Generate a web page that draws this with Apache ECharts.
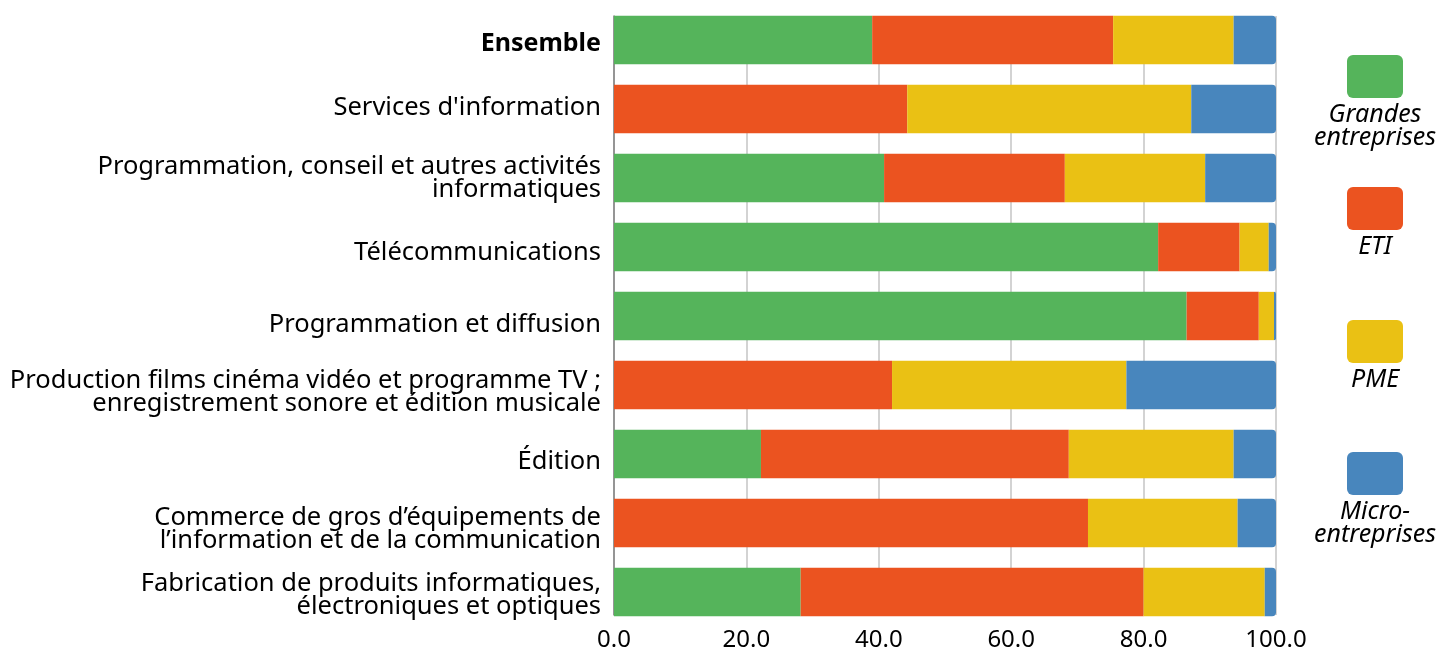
<!DOCTYPE html>
<html>
<head>
<meta charset="utf-8">
<script src="https://cdn.jsdelivr.net/npm/echarts@6/dist/echarts.min.js"></script>
<style>
  html, body { margin: 0; padding: 0; background: #fff; }
  #chart { width: 1442px; height: 652px; }
</style>
</head>
<body>
<div id="chart"></div>
<script>
// Sectors, top to bottom
const categories = [
  'Ensemble',
  "Services d'information",
  'Programmation, conseil et autres activités\ninformatiques',
  'Télécommunications',
  'Programmation et diffusion',
  'Production films cinéma vidéo et programme TV ;\nenregistrement sonore et édition musicale',
  'Édition',
  'Commerce de gros d’équipements de\nl’information et de la communication',
  'Fabrication de produits informatiques,\nélectroniques et optiques'
];

// Share (%) by company size
const grandes = [39.0, 0, 40.8, 82.2, 86.5, 0, 22.2, 0, 28.2];
const eti     = [36.4, 44.3, 27.3, 12.3, 10.9, 42.0, 46.5, 71.6, 51.8];
const pme     = [18.2, 42.9, 21.2, 4.4, 2.3, 35.4, 24.9, 22.6, 18.3];
const micro   = [6.4, 12.8, 10.7, 1.1, 0.3, 22.6, 6.4, 5.8, 1.7];

const seriesNames = ['Grandes entreprises', 'ETI', 'PME', 'Micro-entreprises'];
const legendLabels = ['Grandes\nentreprises', 'ETI', 'PME', 'Micro-\nentreprises'];

const colors = ['#55b45b', '#eb5320', '#eac114', '#4886bd'];
const seriesData = [grandes, eti, pme, micro];

// Vertical nudge (px) applied to each sector caption
const labelNudge = [4, -1, 0, 6, 9, 7.5, 7.5, 6.5, 3];

const chart = echarts.init(document.getElementById('chart'), null, { renderer: 'canvas' });

const LEFT = 614, RIGHT = 166;
const FONT = '"Noto Sans"';

const series = seriesData.map((d, i) => ({
  name: seriesNames[i],
  type: 'bar',
  stack: 'total',
  xAxisIndex: 1,
  yAxisIndex: 1,
  barCategoryGap: '30%',
  data: d,
  itemStyle: {
    color: colors[i],
    borderRadius: i === seriesData.length - 1 ? [0, 4, 4, 0] : 0
  },
  emphasis: { disabled: true }
}));

chart.setOption({
  animation: false,
  grid: [
    { left: LEFT, right: RIGHT, top: 16, height: 600 },
    { left: LEFT, right: RIGHT, top: 5.5, height: 621 }
  ],
  xAxis: [
    {
      gridIndex: 0, type: 'value', min: 0, max: 100, interval: 20,
      axisLine: { show: false },
      axisTick: { show: false },
      splitLine: { show: true, lineStyle: { color: '#c4c4c4', width: 1.5 } },
      axisLabel: {
        color: '#000', fontFamily: 'Noto Sans', fontSize: 24, margin: 13,
        formatter: v => v.toFixed(1)
      }
    },
    { gridIndex: 1, type: 'value', min: 0, max: 100, show: false }
  ],
  yAxis: [
    {
      gridIndex: 0, type: 'value', min: 0, max: 1,
      axisLine: { show: true, lineStyle: { color: '#808080', width: 1.5 } },
      axisTick: { show: false },
      axisLabel: { show: false },
      splitLine: { show: false }
    },
    {
      gridIndex: 1, type: 'category', inverse: true, data: categories,
      axisLine: { show: false },
      axisTick: { show: false },
      axisLabel: { show: false }
    }
  ],
  series: series
});

// Sector captions, placed on the category axis band centres
const graphic = [];
categories.forEach((name, i) => {
  const cy = chart.convertToPixel({ yAxisIndex: 1 }, i);
  graphic.push({
    type: 'text',
    x: LEFT - 13, y: cy + labelNudge[i],
    silent: true,
    style: {
      text: name,
      fill: '#000',
      font: i === 0 ? 'bold 25px ' + FONT : '25.5px ' + FONT,
      align: 'right',
      verticalAlign: 'middle',
      lineHeight: 23
    }
  });
});

// Legend: swatch above an italic caption, stacked on the right
const legendTops = [55, 187, 320, 452];
legendLabels.forEach((lab, i) => {
  graphic.push({
    type: 'rect',
    left: 1347, top: legendTops[i],
    silent: true,
    shape: { width: 56, height: 43, r: 6 },
    style: { fill: colors[i] }
  });
  graphic.push({
    type: 'text',
    x: 1375, y: legendTops[i] + 48,
    silent: true,
    style: {
      text: lab,
      fill: '#000',
      font: 'italic 25px ' + FONT,
      align: 'center',
      verticalAlign: 'top',
      lineHeight: 23
    }
  });
});

chart.setOption({ graphic: graphic });
</script>
</body>
</html>
